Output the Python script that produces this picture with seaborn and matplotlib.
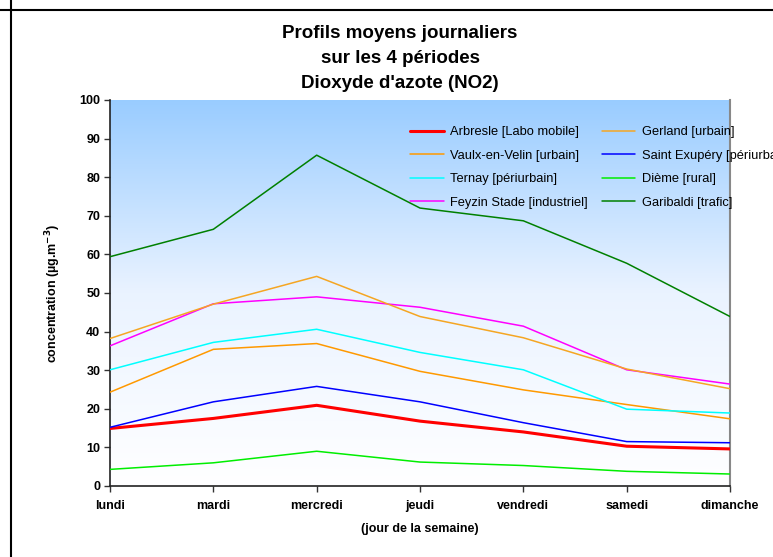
import numpy as np
import pandas as pd
import seaborn as sns
import matplotlib.pyplot as plt
from matplotlib.colors import LinearSegmentedColormap
from matplotlib.lines import Line2D

jours = ['lundi', 'mardi', 'mercredi', 'jeudi', 'vendredi', 'samedi', 'dimanche']

arbresle = [14.9, 17.5, 20.9, 16.8, 14.0, 10.3, 9.6]
gerland = [38.2, 47.1, 54.3, 43.9, 38.4, 30.3, 25.2]
vaulx = [24.3, 35.4, 36.9, 29.7, 24.9, 21.1, 17.4]
st_exupery = [15.2, 21.8, 25.8, 21.8, 16.4, 11.5, 11.2]
ternay = [30.1, 37.2, 40.6, 34.6, 30.1, 19.9, 18.9]
dieme = [4.3, 6.0, 9.0, 6.2, 5.3, 3.8, 3.1]
feyzin = [36.3, 47.2, 49.0, 46.3, 41.4, 30.1, 26.4]
garibaldi = [59.4, 66.5, 85.7, 72.0, 68.7, 57.7, 43.9]

# ordre = ordre de la legende (2 colonnes, lecture par ligne)
series = [
    ('Arbresle [Labo mobile]', arbresle, '#FF0000', 2.2),
    ('Vaulx-en-Velin [urbain]', vaulx, '#FF9900', 1.1),
    ('Ternay [périurbain]', ternay, '#00FFFF', 1.1),
    ('Feyzin Stade [industriel]', feyzin, '#FF00FF', 1.1),
    ('Gerland [urbain]', gerland, '#F5A623', 1.1),
    ('Saint Exupéry [périurbain]', st_exupery, '#0000FF', 1.1),
    ('Dième [rural]', dieme, '#00EE00', 1.1),
    ('Garibaldi [trafic]', garibaldi, '#008000', 1.1),
]

sns.set_style('white')
plt.rcParams['font.family'] = ['Liberation Sans', 'DejaVu Sans']
plt.rcParams['text.color'] = 'black'
plt.rcParams['axes.labelcolor'] = 'black'
plt.rcParams['xtick.color'] = 'black'
plt.rcParams['ytick.color'] = 'black'

fig = plt.figure(figsize=(7.73, 5.57), dpi=100)
ax = fig.add_axes([0.1423, 0.1275, 0.8021, 0.693])

# fond degrade bleu -> blanc
cmap = LinearSegmentedColormap.from_list('bg', ['#FFFFFF', '#EAF3FF', '#99CCFF'])
grad = np.linspace(0, 1, 256).reshape(-1, 1)
ax.imshow(grad, extent=(0, 6, 0, 100), origin='lower', aspect='auto',
          cmap=cmap, zorder=0)

for nom, vals, col, lw in series:
    df = pd.DataFrame({'jour': range(len(jours)), 'val': vals})
    sns.lineplot(data=df, x='jour', y='val', ax=ax, color=col,
                 linewidth=lw, label=nom, zorder=3)

ax.set_xlim(0, 6)
ax.set_ylim(0, 100)
ax.set_xticks(range(len(jours)))
ax.set_xticklabels(jours)
ax.set_yticks(range(0, 101, 10))
for lab in ax.get_xticklabels() + ax.get_yticklabels():
    lab.set_fontweight('bold')
    lab.set_fontsize(9)
ax.tick_params(axis='both', direction='out', length=4, width=1,
               color='#333333', left=True, bottom=True, pad=3)
ax.tick_params(axis='x', pad=6)

ax.set_xlabel('(jour de la semaine)', fontsize=9, fontweight='bold', labelpad=8)
ax.set_ylabel('concentration (µg.m$^{\\mathbf{-3}}$)', fontsize=9,
              fontweight='bold', labelpad=12)
ax.set_title("Profils moyens journaliers\nsur les 4 périodes\nDioxyde d'azote (NO2)",
             fontsize=13.5, fontweight='bold', linespacing=1.62, pad=8.5,
             x=0.468)

for s in ['left', 'bottom']:
    ax.spines[s].set_color('#222222')
    ax.spines[s].set_linewidth(1.2)
ax.spines['right'].set_color('#888888')
ax.spines['right'].set_linewidth(1.5)
ax.spines['top'].set_visible(False)

leg = ax.legend(loc='upper left', bbox_to_anchor=(0.465, 0.962), ncol=2,
                frameon=False, fontsize=9.3, handlelength=2.6,
                columnspacing=1.1, labelspacing=0.88, handletextpad=0.5)

# cadre du graphique d'origine
fig.add_artist(Line2D([0, 1], [1 - 10 / 557, 1 - 10 / 557], color='black', lw=1.5))
fig.add_artist(Line2D([11 / 773, 11 / 773], [0, 1], color='black', lw=1.5))

fig.savefig('out.png', dpi=100)
